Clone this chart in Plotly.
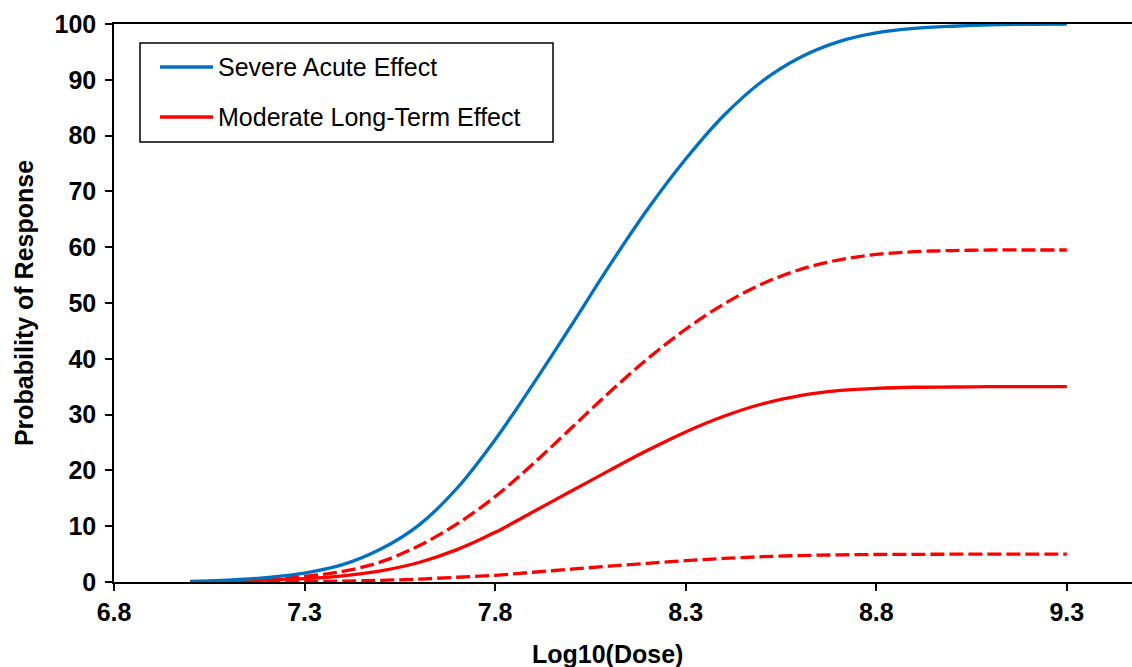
import plotly.graph_objects as go

# ---- data ----
log_dose = [7.0, 7.1, 7.2, 7.3, 7.4, 7.5, 7.6, 7.7, 7.8, 7.9, 8.0, 8.1,
            8.2, 8.3, 8.4, 8.5, 8.6, 8.7, 8.8, 8.9, 9.0, 9.1, 9.2, 9.3]
severe_acute = [0.1, 0.35, 0.8, 1.6, 3.1, 5.9, 10.2, 16.8, 25.5, 35.5, 46.0, 56.7,
                66.8, 75.8, 83.6, 89.7, 94.0, 96.8, 98.4, 99.2, 99.6, 99.85, 99.95, 100.0]
moderate_long = [0.03, 0.14, 0.32, 0.6, 1.1, 2.0, 3.5, 5.8, 8.9, 12.6, 16.3, 20.0,
                 23.6, 26.9, 29.7, 31.9, 33.4, 34.3, 34.7, 34.9, 34.95, 35.0, 35.0, 35.0]
moderate_upper = [0.05, 0.25, 0.55, 1.0, 1.9, 3.6, 6.5, 10.4, 15.3, 21.2, 27.6, 34.0,
                  40.0, 45.3, 49.8, 53.4, 56.0, 57.7, 58.7, 59.2, 59.4, 59.5, 59.5, 59.5]
moderate_lower = [0.0, 0.02, 0.05, 0.09, 0.16, 0.3, 0.52, 0.85, 1.2, 1.75, 2.3, 2.85,
                  3.35, 3.82, 4.22, 4.53, 4.74, 4.86, 4.93, 4.96, 4.98, 4.99, 5.0, 5.0]
x_ticks = [6.8, 7.3, 7.8, 8.3, 8.8, 9.3]
y_ticks = [0, 10, 20, 30, 40, 50, 60, 70, 80, 90, 100]
legend_names = ["Severe Acute Effect", "Moderate Long-Term Effect"]

BLUE = "#0070C0"
RED = "#FF0000"
FONT = "Liberation Sans, Arial, sans-serif"

fig = go.Figure()
fig.add_trace(go.Scatter(x=log_dose, y=moderate_lower, mode="lines", showlegend=False,
                         line=dict(color=RED, width=3.3, dash="14px,5px", shape="spline", smoothing=1.0)))
fig.add_trace(go.Scatter(x=log_dose, y=moderate_upper, mode="lines", showlegend=False,
                         line=dict(color=RED, width=3.3, dash="14px,5px", shape="spline", smoothing=1.0)))
fig.add_trace(go.Scatter(x=log_dose, y=moderate_long, mode="lines", name=legend_names[1], showlegend=False,
                         line=dict(color=RED, width=3.3, shape="spline", smoothing=1.0)))
fig.add_trace(go.Scatter(x=log_dose, y=severe_acute, mode="lines", name=legend_names[0], showlegend=False,
                         line=dict(color=BLUE, width=3.3, shape="spline", smoothing=1.0)))

W, H = 1132, 667
L, R, T, B = 114, 0, 24, 85
pw, ph = W - L - R, H - T - B

def px(xp):
    return (xp - L) / pw

def py(yp):
    return (H - B - yp) / ph

# manual legend box (Excel-style, long line samples)
shapes = [dict(type="rect", xref="paper", yref="paper", x0=px(140), x1=px(553), y0=py(142), y1=py(43),
               line=dict(color="black", width=1.5), fillcolor="white", layer="above")]
annotations = []
for name, color, yy in [(legend_names[0], BLUE, 67), (legend_names[1], RED, 117)]:
    shapes.append(dict(type="line", xref="paper", yref="paper", x0=px(160), x1=px(213), y0=py(yy), y1=py(yy),
                       line=dict(color=color, width=3.5), layer="above"))
    annotations.append(dict(xref="paper", yref="paper", x=px(216), y=py(yy), xanchor="left", yanchor="middle",
                            text=name, showarrow=False, font=dict(family=FONT, size=25, color="black")))

# x-axis title (Excel places it slightly left of plot centre)
annotations.append(dict(xref="paper", yref="paper", x=px(607), y=py(654), xanchor="center", yanchor="middle",
                        text="<b>Log10(Dose)</b>", showarrow=False,
                        font=dict(family=FONT, size=25, color="black")))

fig.update_layout(
    width=W, height=H,
    margin=dict(l=L, r=R, t=T, b=B, autoexpand=False),
    paper_bgcolor="white", plot_bgcolor="white",
    font=dict(family=FONT, color="black"),
    showlegend=False,
    shapes=shapes, annotations=annotations,
    xaxis=dict(range=[6.8, 9.471], tickvals=x_ticks, ticktext=[f"<b>{v:.1f}</b>" for v in x_ticks],
               showgrid=False, zeroline=False, showline=True, linecolor="black", linewidth=1.5,
               mirror=True, ticks="outside", ticklen=7, tickwidth=1.5, tickcolor="black",
               tickfont=dict(family=FONT, size=25, color="black"), automargin=False),
    yaxis=dict(range=[0, 100], tickvals=y_ticks, ticktext=[f"<b>{v}</b>" for v in y_ticks],
               showgrid=False, zeroline=False,
               showline=True, linecolor="black", linewidth=1.5,
               ticks="outside", ticklen=7, tickwidth=1.5, tickcolor="black",
               tickfont=dict(family=FONT, size=25, color="black"), ticklabelstandoff=4,
               title=dict(text="<b>Probability of Response</b>", standoff=14,
                          font=dict(family=FONT, size=25, color="black")),
               automargin=False),
)

fig.write_html("out.html")
